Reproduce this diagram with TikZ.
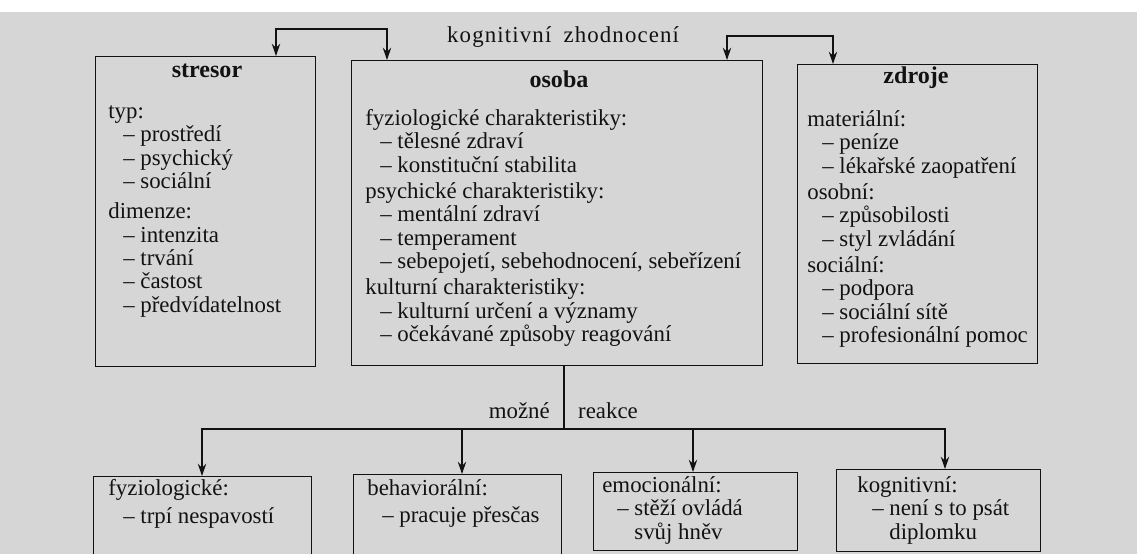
\documentclass[tikz,border=0pt]{standalone}
\usepackage{fontspec}
\setmainfont{Liberation Serif}
\usetikzlibrary{arrows.meta,positioning}
\definecolor{papir}{gray}{0.84}
\definecolor{tisk}{gray}{0.07}
\tikzset{>={Stealth[length=7pt,width=4.8pt]},every node/.style={font=\fontsize{13}{13.3}\selectfont,text=tisk},
  box/.style={draw=tisk,line width=.8pt,anchor=north west,inner sep=0pt},
  lst/.style={align=left,anchor=north west,inner sep=0pt},
  head/.style={font=\fontsize{13.7}{14}\selectfont\bfseries,anchor=base},
  flow/.style={draw=tisk,line width=.8pt,->},edge/.style={draw=tisk,line width=.8pt}}
\newcommand{\pol}{\hspace*{8.5pt}–\ }
\newcommand{\dal}{\hspace*{8.5pt}\phantom{–\ }}
\newcommand{\vrch}{\rule{0pt}{10pt}}

\begin{document}
\begin{tikzpicture}[x=.02cm,y=-.02cm]
\useasboundingbox (0,0) rectangle (1137,554);
\fill[white] (0,0) rectangle (1137,12);\fill[papir] (0,12) rectangle (1137,554);
\clip (0,0) rectangle (1137,554);
% horni rada
\node[box,minimum width=4.4cm,minimum height=6.2cm] (stresor) at (95,56) {};
\node[box,minimum width=8.22cm,minimum height=6.1cm] (osoba) at (351,60) {};
\node[box,minimum width=4.8cm,minimum height=5.98cm] (zdroje) at (797,64) {};
\node[head] (tstresor) at (207,78) {stresor};
\node[head] (tosoba) at (559,88) {osoba};
\node[head] (tzdroje) at (916,84) {zdroje};
\node[lst] (lstresor) at (108,100.4) {\vrch typ:\\ \pol prostředí\\ \pol psychický\\ \pol sociální\\[4pt]
  dimenze:\\ \pol intenzita\\ \pol trvání\\ \pol častost\\ \pol předvídatelnost};
\node[lst] (losoba) at (365,107.4) {\vrch fyziologické charakteristiky:\\ \pol tělesné zdraví\\ \pol konstituční stabilita\\[1.7pt]
  psychické charakteristiky:\\ \pol mentální zdraví\\ \pol temperament\\ \pol sebepojetí, sebehodnocení, sebeřízení\\[1.7pt]
  kulturní charakteristiky:\\ \pol kulturní určení a významy\\ \pol očekávané způsoby reagování};
\node[lst] (lzdroje) at (807,108.4) {\vrch materiální:\\ \pol peníze\\ \pol lékařské zaopatření\\[1.7pt]
  osobní:\\ \pol způsobilosti\\ \pol styl zvládání\\[1.7pt]
  sociální:\\ \pol podpora\\ \pol sociální sítě\\ \pol profesionální pomoc};
% kognitivni zhodnoceni
\node[anchor=base west] (kz) at (441,43) {\addfontfeatures{LetterSpace=5}kognitivní\hspace{3pt} zhodnocení};
\coordinate (k1) at (276,29);\coordinate (k2) at (387,29);
\coordinate (k3) at (727,36);\coordinate (k4) at (833,36);
\draw[edge,<->] (k1 |- stresor.north) -- (k1) -- (k2) -- (k2 |- osoba.north);
\draw[edge,<->] (k3 |- osoba.north) -- (k3) -- (k4) -- (k4 |- zdroje.north);
% dolni rada
\node[box,minimum width=4.36cm,minimum height=3cm] (fyz) at (93,476) {};
\node[box,minimum width=4.16cm,minimum height=3cm] (beh) at (353,474) {};
\node[box,minimum width=4.08cm,minimum height=1.56cm] (emo) at (593,472) {};
\node[box,minimum width=4.08cm,minimum height=1.64cm] (kog) at (836,469) {};
\node[lst] (lfyz) at (108,477.4) {\vrch fyziologické:\\[2.5pt] \pol trpí nespavostí};
\node[lst] (lbeh) at (367,477.4) {\vrch behaviorální:\\[2pt] \pol pracuje přesčas};
\node[lst] (lemo) at (602,474.4) {\vrch emocionální:\\ \pol stěží ovládá\\ \dal svůj hněv};
\node[lst] (lkog) at (857,474.4) {\vrch kognitivní:\\ \pol není s to psát\\ \dal diplomku};
% mozne reakce
\coordinate (rx) at (564,429);
\coordinate (a1) at (202,429);\coordinate (a2) at (462,429);
\coordinate (a3) at (693,429);\coordinate (a4) at (945,429);
\node[anchor=base east] (mozne) at (556,418) {možné};
\node[anchor=base west] (reakce) at (572,418) {reakce};
\draw[edge] (rx |- osoba.south) -- (rx);
\draw[edge,<->] (a1 |- fyz.north) -- (a1) -- (a4) -- (a4 |- kog.north);
\draw[flow] (a2) -- (a2 |- beh.north);
\draw[flow] (a3) -- (a3 |- emo.north);
\end{tikzpicture}
\end{document}
